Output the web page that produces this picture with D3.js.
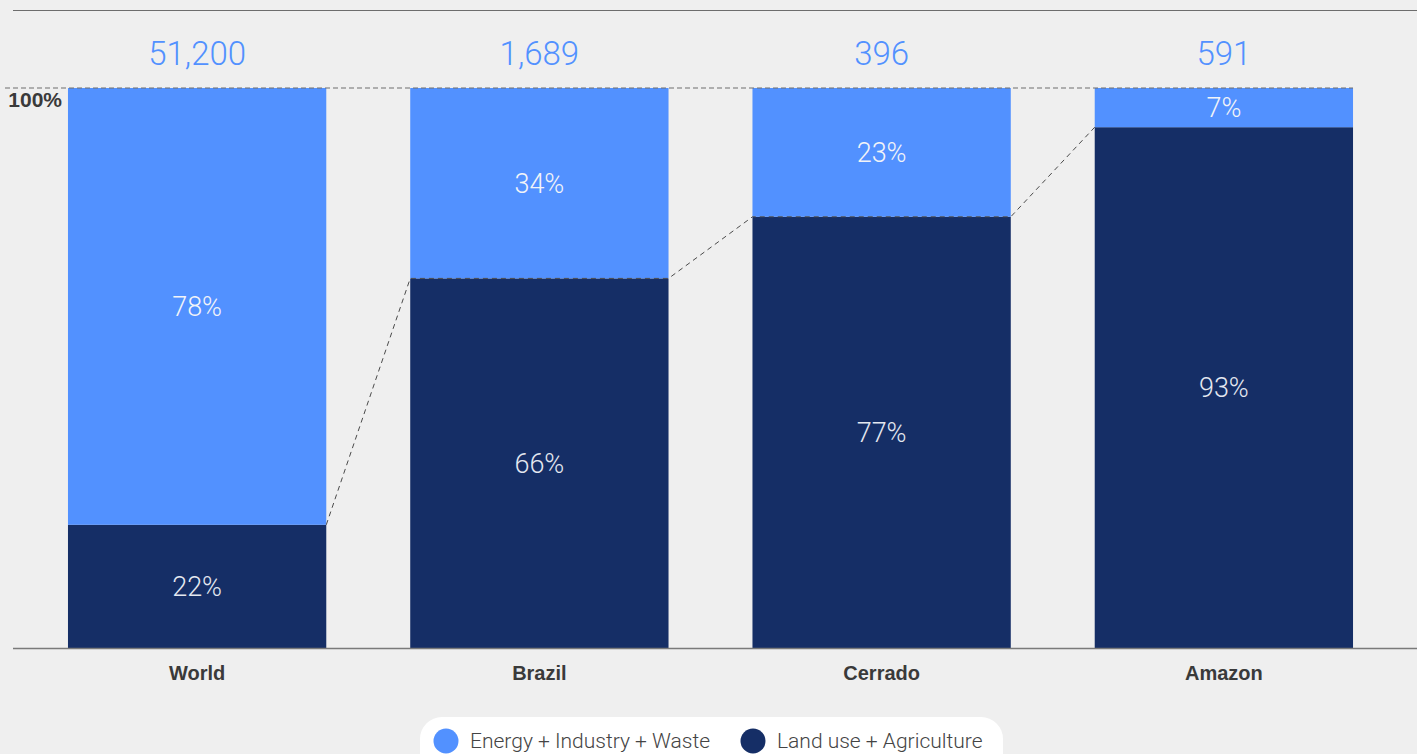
<!DOCTYPE html>
<html><head><meta charset="utf-8">
<script src="https://cdn.jsdelivr.net/npm/d3@7/dist/d3.min.js"></script>
<style>
html,body{margin:0;padding:0;background:#efefef;}
svg{display:block;}
</style></head>
<body>
<svg id="chart" width="1417" height="754"></svg>
<script>
const categories = ["World", "Brazil", "Cerrado", "Amazon"];
const totals = ["51,200", "1,689", "396", "591"];
const landUse = [22, 66, 77, 93];
const energy = [78, 34, 23, 7];
const seriesNames = ["Energy + Industry + Waste", "Land use + Agriculture"];
const yTickLabel = "100%";

const W = 1417, H = 754;
const lightBlue = "#5291ff", navy = "#152e66";
const light = "Roboto, 'Liberation Sans', sans-serif";
const bold = "'Liberation Sans', Arial, sans-serif";

const svg = d3.select("#chart");
const x = d3.scaleBand().domain(categories).range([26, 1395]).paddingInner(0.2453).paddingOuter(0.12265);
const y = d3.scaleLinear().domain([0, 100]).range([648, 88]);

// top rule
svg.append("line").attr("x1", 13).attr("x2", W).attr("y1", 10.5).attr("y2", 10.5)
  .attr("stroke", "#6d6d6d").attr("stroke-width", 1.2);

const data = categories.map((c, i) => ({c, land: landUse[i], energy: energy[i], total: totals[i]}));

// bars
const g = svg.append("g");
g.selectAll("rect.land").data(data).join("rect").attr("class", "land")
  .attr("x", d => x(d.c)).attr("width", x.bandwidth())
  .attr("y", d => y(d.land)).attr("height", d => y(0) - y(d.land)).attr("fill", navy);
g.selectAll("rect.energy").data(data).join("rect").attr("class", "energy")
  .attr("x", d => x(d.c)).attr("width", x.bandwidth())
  .attr("y", d => y(100)).attr("height", d => y(d.land) - y(100)).attr("fill", lightBlue);

// 100% dashed line
svg.append("line").attr("x1", 5).attr("x2", x(categories[3]) + x.bandwidth())
  .attr("y1", y(100)).attr("y2", y(100))
  .attr("stroke", "#6f6f6f").attr("stroke-width", 1.2).attr("stroke-dasharray", "5,3");

// connector polyline
const pts = [];
data.forEach((d, i) => {
  const yy = y(d.land);
  if (i > 0) pts.push([x(d.c), yy]);
  if (i < data.length - 1) pts.push([x(d.c) + x.bandwidth(), yy]);
});
svg.append("path").attr("d", d3.line()(pts)).attr("fill", "none")
  .attr("stroke", "#4a4a4a").attr("stroke-width", 1).attr("stroke-dasharray", "5,4");

// baseline
svg.append("line").attr("x1", 13).attr("x2", W).attr("y1", 648.5).attr("y2", 648.5)
  .attr("stroke", "#7a7a7a").attr("stroke-width", 1.5);

// y label
svg.append("text").attr("x", 62).attr("y", 107).attr("text-anchor", "end")
  .attr("font-family", bold).attr("font-weight", "bold").attr("font-size", 21)
  .attr("fill", "#3a3a3a").text(yTickLabel);

// totals
svg.selectAll("text.total").data(data).join("text").attr("class", "total")
  .attr("x", d => x(d.c) + x.bandwidth() / 2).attr("y", 65).attr("text-anchor", "middle")
  .attr("font-family", light).attr("font-weight", 300).attr("font-size", 33)
  .attr("fill", lightBlue).text(d => d.total);

// segment labels
svg.selectAll("text.el").data(data).join("text").attr("class", "el")
  .attr("x", d => x(d.c) + x.bandwidth() / 2).attr("y", d => (y(100) + y(d.land)) / 2)
  .attr("dy", "0.36em").attr("text-anchor", "middle")
  .attr("font-family", light).attr("font-weight", 300).attr("font-size", 27)
  .attr("fill", "#f2f4f8").text(d => d.energy + "%");
svg.selectAll("text.ll").data(data).join("text").attr("class", "ll")
  .attr("x", d => x(d.c) + x.bandwidth() / 2).attr("y", d => (y(0) + y(d.land)) / 2)
  .attr("dy", "0.36em").attr("text-anchor", "middle")
  .attr("font-family", light).attr("font-weight", 300).attr("font-size", 27)
  .attr("fill", "#e4e8f0").text(d => d.land + "%");

// category axis
const xAxis = svg.append("g").attr("transform", "translate(0,648)")
  .call(d3.axisBottom(x).tickSize(0).tickPadding(0));
xAxis.select(".domain").remove();
xAxis.selectAll("text").attr("y", 32).attr("dy", 0)
  .attr("font-family", bold).attr("font-weight", "bold").attr("font-size", 20).attr("fill", "#3a3a3a");

// legend
const lg = svg.append("g");
lg.append("rect").attr("x", 420).attr("y", 717).attr("width", 583).attr("height", 60)
  .attr("rx", 22).attr("fill", "#ffffff");
const lx = [446, 753];
const lcol = [lightBlue, navy];
seriesNames.forEach((s, i) => {
  lg.append("circle").attr("cx", lx[i]).attr("cy", 741).attr("r", 12.5).attr("fill", lcol[i]);
  lg.append("text").attr("x", lx[i] + 24).attr("y", 748).attr("font-family", light)
    .attr("font-weight", 300).attr("font-size", 21).attr("fill", "#444").text(s);
});
</script>
</body></html>
